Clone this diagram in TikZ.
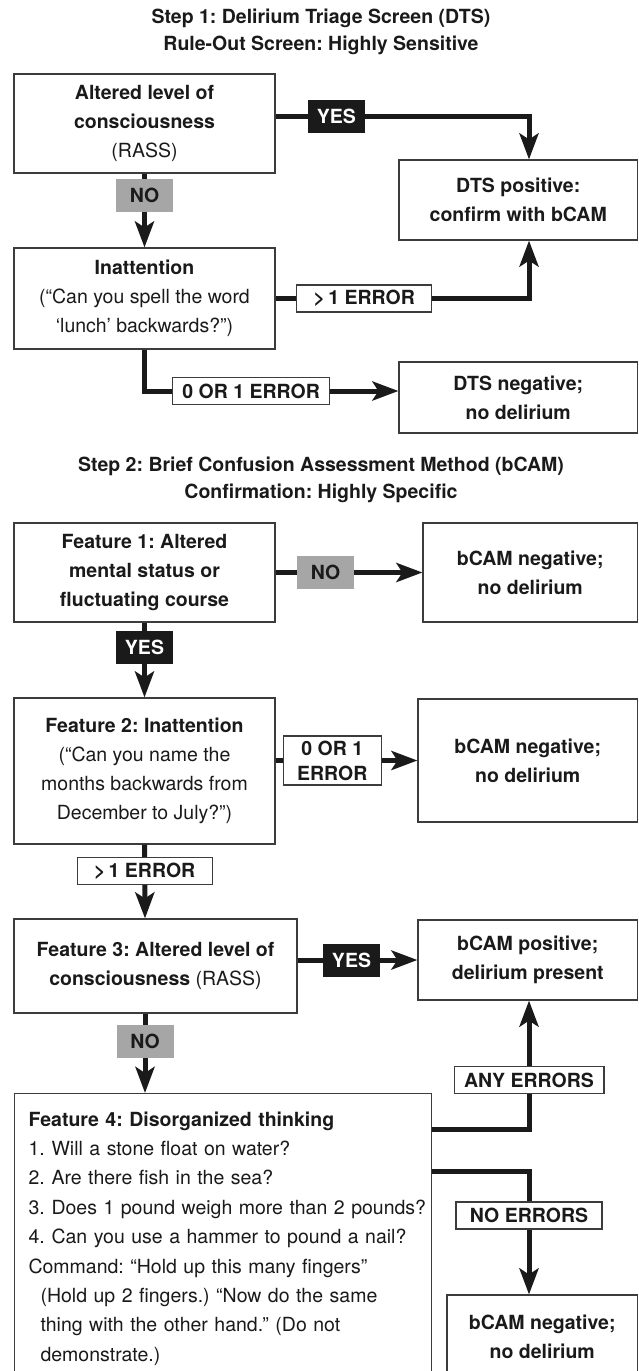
\documentclass[tikz,border=0pt]{standalone}
\usepackage{fontspec}
\setmainfont{TeX Gyre Heros}
\usetikzlibrary{arrows.meta}
\frenchspacing

\definecolor{ink}{HTML}{1A1A1A}
\definecolor{frame}{HTML}{3C3C3C}
\definecolor{nogray}{HTML}{A6A6A6}

\tikzset{
  txt/.style = {font = \fontsize{19.5}{29}\selectfont\bfseries, text = ink},
  title/.style = {txt, align = center, font = \fontsize{19.5}{27}\selectfont\bfseries},
  box/.style = {txt, draw = frame, line width = 1.1pt, fill = white, align = center, inner sep = 4pt},
  lbl/.style = {txt, draw = frame, line width = 1.1pt, fill = white, inner xsep = 10pt, minimum height = 27pt, align = center},
  yeslbl/.style = {txt, fill = ink, text = white, minimum width = 57pt, minimum height = 33pt, inner sep = 0pt},
  nolbl/.style = {txt, fill = nogray, minimum width = 57pt, minimum height = 33pt, inner sep = 0pt},
  flow/.style = {draw = ink, line width = 5pt, -{Stealth[length = 26pt, width = 19pt, inset = 6pt]}}
}

\begin{document}
\begin{tikzpicture}[x = 1pt, y = -1pt]
  \useasboundingbox (0, 0) rectangle (639, 1371);
  \coordinate (spine) at (145, 0);
  \coordinate (rail) at (529, 0);

  \node[title] (step1) at (321, 31.5) {Step 1: Delirium Triage Screen (DTS)\\Rule-Out Screen: Highly Sensitive};

  \node[box, minimum width = 261pt, minimum height = 99pt] (alt) at (144.5, 123.5)
  {Altered level of\\consciousness\\\textmd{(RASS)}};
  \node[box, minimum width = 238.5pt, minimum height = 80pt] (dtspos) at (518.25, 200)
  {DTS positive:\\confirm with bCAM};
  \node[box, minimum width = 261pt, minimum height = 101pt] (inatt) at (144.5, 298.5)
  {Inattention\\\textmd{(“Can you spell the word}\\\textmd{‘lunch’ backwards?”)}};
  \node[box, minimum width = 238.5pt, minimum height = 71pt] (dtsneg) at (518.25, 397.5)
  {DTS negative;\\no delirium};

  \node[title] (step2) at (321, 479.5) {Step 2: Brief Confusion Assessment Method (bCAM)\\Confirmation: Highly Specific};

  \node[box, minimum width = 261pt, minimum height = 99pt] (feat1) at (144.5, 572.5)
  {Feature 1: Altered\\mental status or\\fluctuating course};
  \node[box, minimum width = 214.5pt, minimum height = 99pt] (bneg1) at (530.25, 572.5)
  {bCAM negative;\\no delirium};
  \node[box, minimum width = 261pt, minimum height = 146pt] (feat2) at (144.5, 771)
  {Feature 2: Inattention\\\textmd{(“Can you name the}\\\textmd{months backwards from}\\\textmd{December to July?”)}};
  \node[box, minimum width = 219.5pt, minimum height = 123pt] (bneg2) at (527.75, 760.5)
  {bCAM negative;\\no delirium};
  \node[box, minimum width = 283pt, minimum height = 94pt] (feat3) at (155.5, 966)
  {Feature 3: Altered level of\\consciousness \textmd{(RASS)}};
  \node[box, minimum width = 219.5pt, minimum height = 80pt] (bpos) at (527.75, 960)
  {bCAM positive;\\delirium present};
  \node[box, anchor = north west, minimum height = 290pt, text width = 389pt, inner xsep = 14pt,
    align = left, font = \fontsize{19.5}{29.4}\selectfont] (feat4) at (14, 1093)
  {\textbf{Feature 4: Disorganized thinking}\\
    \makebox[23pt][l]{1.}Will a stone float on water?\\
    \makebox[23pt][l]{2.}Are there fish in the sea?\\
    \mbox{\makebox[23pt][l]{3.}Does 1 pound weigh more than 2 pounds?}\\
    \mbox{\makebox[23pt][l]{4.}Can you use a hammer to pound a nail?}\\
    Command: “Hold up this many fingers”\\
    \hspace*{12pt}(Hold up 2 fingers.) “Now do the same\\
    \hspace*{12pt}thing with the other hand.” (Do not\\
    \hspace*{12pt}demonstrate.)};
  \node[box, minimum width = 190.5pt, minimum height = 84pt] (bneg3) at (542.25, 1337)
  {bCAM negative;\\no delirium};

  \draw[flow] ([yshift = 7.5pt]alt.east) -| (dtspos.north -| rail)
  node[yeslbl, pos = 0.12] (yes1) {YES};
  \draw[flow] (alt.south) -- (inatt.north) node[nolbl, pos = 0.3] (no1) {NO};
  \draw[flow] (inatt.east) -| (dtspos.south -| rail)
  node[lbl, minimum width = 135pt, pos = 0.175] (err1) {>\,1 ERROR};
  \draw[flow] (inatt.south) |- ([yshift = 6.5pt]dtsneg.west)
  node[lbl, pos = 0.71] (ok1) {0 OR 1 ERROR};

  \draw[flow] (feat1.east) -- (bneg1.west) node[nolbl, pos = 0.34] (no2) {NO};
  \draw[flow] (feat1.south) -- (feat2.north) node[yeslbl, pos = 0.33] (yes2) {YES};
  \draw[flow] (feat2.east |- bneg2.west) -- (bneg2.west)
  node[lbl, pos = 0.4, minimum width = 98pt, minimum height = 49pt, inner xsep = 4pt,
    font = \fontsize{19.5}{25}\selectfont\bfseries] (ok2) {0 OR 1\\ERROR};
  \draw[flow] (feat2.south) -- (feat3.north -| spine)
  node[lbl, minimum width = 135pt, pos = 0.36] (err2) {>\,1 ERROR};
  \draw[flow] (feat3.east |- bpos.west) -- (bpos.west) node[yeslbl, pos = 0.45] (yes3) {YES};
  \draw[flow] (feat3.south -| spine) -- (feat4.north -| spine) node[nolbl, pos = 0.35] (no3) {NO};
  \draw[flow] ([yshift = -36pt]feat4.north east) -| (bpos.south -| rail)
  node[lbl, minimum width = 146pt, pos = 0.69] (anyerr) {ANY ERRORS};
  \draw[flow] ([yshift = -78pt]feat4.north east) -| (bneg3.north -| rail)
  node[lbl, minimum width = 146pt, pos = 0.68] (noerr) {NO ERRORS};
\end{tikzpicture}
\end{document}
